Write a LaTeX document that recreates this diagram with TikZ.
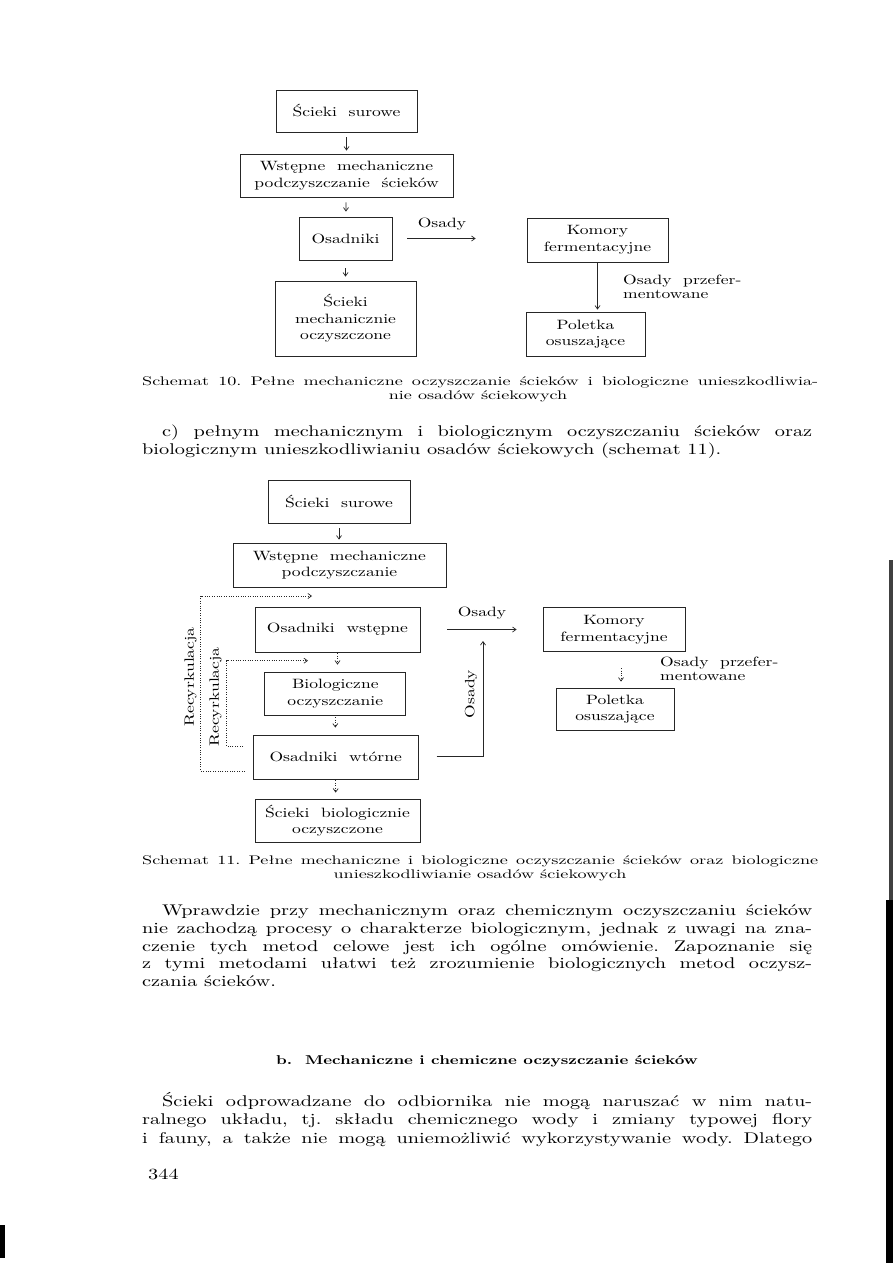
\documentclass[tikz,border=0pt]{standalone}
\usepackage{fontspec}
\setmainfont{lmroman10-regular.otf}[FakeStretch=1.31,BoldFont=lmroman10-bold.otf]
\newfontfamily\boxfont{lmroman10-regular.otf}[FakeStretch=1.3]
\newfontfamily\captfont{lmroman10-regular.otf}[FakeStretch=1.45]
\usetikzlibrary{arrows.meta}
\newcommand\setfs[2]{\fontsize{#1}{#2}\selectfont}
\newcommand\jline[2]{\makebox[#1pt][s]{#2}}
\tikzset{
  box/.style={draw=black!85, line width=0.8pt, inner sep=0pt, align=center, font=\boxfont\setfs{13.5}{16.5}},
  arr/.style={draw=black!85, line width=0.7pt, -{Straight Barb[length=3.5pt,width=5pt]}},
  dotarr/.style={arr, dash pattern=on 1pt off 1.4pt},
  lbl/.style={inner sep=0pt, font=\boxfont\setfs{13.5}{14.5}, align=left},
  body/.style={inner sep=0pt, font=\setfs{15.5}{18}},
  capt/.style={inner sep=0pt, font=\captfont\setfs{12.5}{13}},
}
\begin{document}
\frenchspacing
\begin{tikzpicture}[x=1pt,y=-1pt]
\useasboundingbox (0,0) rectangle (893,1263);
\fill[white] (0,0) rectangle (893,1263);
% scan artefacts on the edges
\fill[black!75] (889,560) rectangle (893,1263);
\fill[black] (886,900) rectangle (893,1263);
\fill[black] (0,1225) rectangle (5,1258);

% ---------------- Schemat 10 ----------------
\node[box, minimum width=141pt, minimum height=42pt] (s1) at (346.5,111) {Ścieki\ \ surowe};
\node[box, minimum width=213pt, minimum height=43pt] (w1) at (346.5,175.5) {Wstępne\ \ mechaniczne\\podczyszczanie\ \ ścieków};
\node[box, minimum width=93pt, minimum height=43pt] (o1) at (345.5,238.5) {Osadniki};
\node[box, minimum width=141pt, minimum height=75pt] (m1) at (345.5,318.5) {Ścieki\\mechanicznie\\oczyszczone};
\node[box, minimum width=141pt, minimum height=44pt] (k1) at (597.5,240) {Komory\\fermentacyjne};
\node[box, minimum width=119pt, minimum height=44pt] (p1) at (585.5,334) {Poletka\\osuszające};
\node[lbl] (lo1) at (442,224) {Osady};
\node[lbl, anchor=west] (lp1) at (623,287) {Osady\ \ przefer-\\mentowane};

\draw[arr, shorten <=5pt, shorten >=3pt] (s1) -- (w1);
\draw[arr, shorten <=5pt, shorten >=5pt] (w1) -- (o1);
\draw[arr, shorten <=8pt, shorten >=4pt] (o1) -- (m1);
\draw[arr, shorten <=15pt, shorten >=51pt] (o1.east) -- (o1.east -| k1.west);
\draw[arr, shorten <=1pt, shorten >=2pt] (k1.south) -- (k1.south |- p1.north);

\node[capt, anchor=mid west] (c10a) at (142,383) {\jline{676}{Schemat 10. Pełne mechaniczne oczyszczanie ścieków i biologiczne unieszkodliwia-}};
\node[capt, anchor=mid] (c10b) at (478,397) {nie osadów ściekowych};

\node[body, anchor=mid west] (pc1) at (162,434) {\jline{650}{c) pełnym mechanicznym i biologicznym oczyszczaniu ścieków oraz}};
\node[body, anchor=mid west] (pc2) at (142,452.5) {biologicznym unieszkodliwianiu osadów ściekowych (schemat 11).};

% ---------------- Schemat 11 ----------------
\node[box, minimum width=142pt, minimum height=43pt] (s2) at (339,501.5) {Ścieki\ \ surowe};
\node[box, minimum width=213pt, minimum height=44pt] (w2) at (339.4,565) {Wstępne\ \ mechaniczne\\podczyszczanie};
\node[box, minimum width=165pt, minimum height=45pt] (ow) at (337.5,629.5) {Osadniki\ \ wstępne};
\node[box, minimum width=141pt, minimum height=43pt] (bo) at (335.3,693.5) {Biologiczne\\oczyszczanie};
\node[box, minimum width=165pt, minimum height=44pt] (wt) at (335.7,757) {Osadniki\ \ wtórne};
\node[box, minimum width=165pt, minimum height=43pt] (sb) at (337.5,820.5) {Ścieki\ \ biologicznie\\oczyszczone};
\node[box, minimum width=142pt, minimum height=44pt] (k2) at (614,629.7) {Komory\\fermentacyjne};
\node[box, minimum width=118pt, minimum height=42pt] (p2) at (615,709) {Poletka\\osuszające};

\node[lbl] (lo2) at (482,613) {Osady};
\node[lbl, rotate=90] (lo3) at (471,694) {Osady};
\node[lbl, anchor=west] (lp2) at (660,669) {Osady\ \ przefer-\\mentowane};
\node[lbl, rotate=90] (lr1) at (190.5,677) {Recyrkulacja};
\node[lbl, rotate=90] (lr2) at (215.5,697) {Recyrkulacja};

\draw[arr, shorten <=5pt, shorten >=3pt] (s2) -- (s2 |- w2.north);
\draw[dotarr, shorten <=1pt, shorten >=7pt] (ow.south) -- (ow.south |- bo.north);
\draw[dotarr, shorten <=2pt, shorten >=7pt] (bo.south) -- (bo.south |- wt.north);
\draw[dotarr, shorten <=1pt, shorten >=6pt] (wt.south) -- (wt.south |- sb.north);
\draw[arr, shorten <=27pt, shorten >=26pt] (ow.east) -- (ow.east -| k2.west);
\draw[dotarr, shorten <=16pt, shorten >=6pt] ([xshift=7pt]k2.south) -- ([xshift=7pt]k2.south |- p2.north);

% Osady from secondary settlers
\coordinate (os0) at (436.5,756);
\coordinate (os1) at (483,756);
\coordinate (os2) at (483,641);
\draw[arr] (os0) -- (os1) -- (os2);

% recirculation
\coordinate (ro1) at (245,771);
\coordinate (ro2) at (200.7,771);
\coordinate (ro3) at (200.7,596);
\coordinate (ro4) at (312,596);
\draw[dotarr] (ro1) -- (ro2) -- (ro3) -- (ro4);
\coordinate (ri1) at (243,746);
\coordinate (ri2) at (226.7,746);
\coordinate (ri3) at (226.7,660.7);
\coordinate (ri4) at (308,660.7);
\draw[dotarr] (ri1) -- (ri2) -- (ri3) -- (ri4);

\node[capt, anchor=mid west] (c11a) at (142,862) {\jline{676}{Schemat 11. Pełne mechaniczne i biologiczne oczyszczanie ścieków oraz biologiczne}};
\node[capt, anchor=mid] (c11b) at (480,876) {unieszkodliwianie osadów ściekowych};

\node[body, anchor=mid west] (pw1) at (162,913) {\jline{650}{Wprawdzie przy mechanicznym oraz chemicznym oczyszczaniu ścieków}};
\node[body, anchor=mid west] (pw2) at (142,931) {\jline{670}{nie zachodzą procesy o charakterze biologicznym, jednak z uwagi na zna-}};
\node[body, anchor=mid west] (pw3) at (142,949) {\jline{670}{czenie tych metod celowe jest ich ogólne omówienie. Zapoznanie się}};
\node[body, anchor=mid west] (pw4) at (142,966.5) {\jline{670}{z tymi metodami ułatwi też zrozumienie biologicznych metod oczysz-}};
\node[body, anchor=mid west] (pw5) at (142,984.5) {czania ścieków.};

\node[body, anchor=mid, font=\setfs{12.8}{16}\bfseries] (hb) at (487,1062) {b.\ \ Mechaniczne i chemiczne oczyszczanie ścieków};

\node[body, anchor=mid west] (ps1) at (162,1104) {\jline{650}{Ścieki odprowadzane do odbiornika nie mogą naruszać w nim natu-}};
\node[body, anchor=mid west] (ps2) at (142,1122.5) {\jline{670}{ralnego układu, tj. składu chemicznego wody i zmiany typowej flory}};
\node[body, anchor=mid west] (ps3) at (142,1141) {\jline{670}{i fauny, a także nie mogą uniemożliwić wykorzystywanie wody. Dlatego}};

\node[body, anchor=mid west] (pn) at (148,1177) {344};
\end{tikzpicture}
\end{document}
